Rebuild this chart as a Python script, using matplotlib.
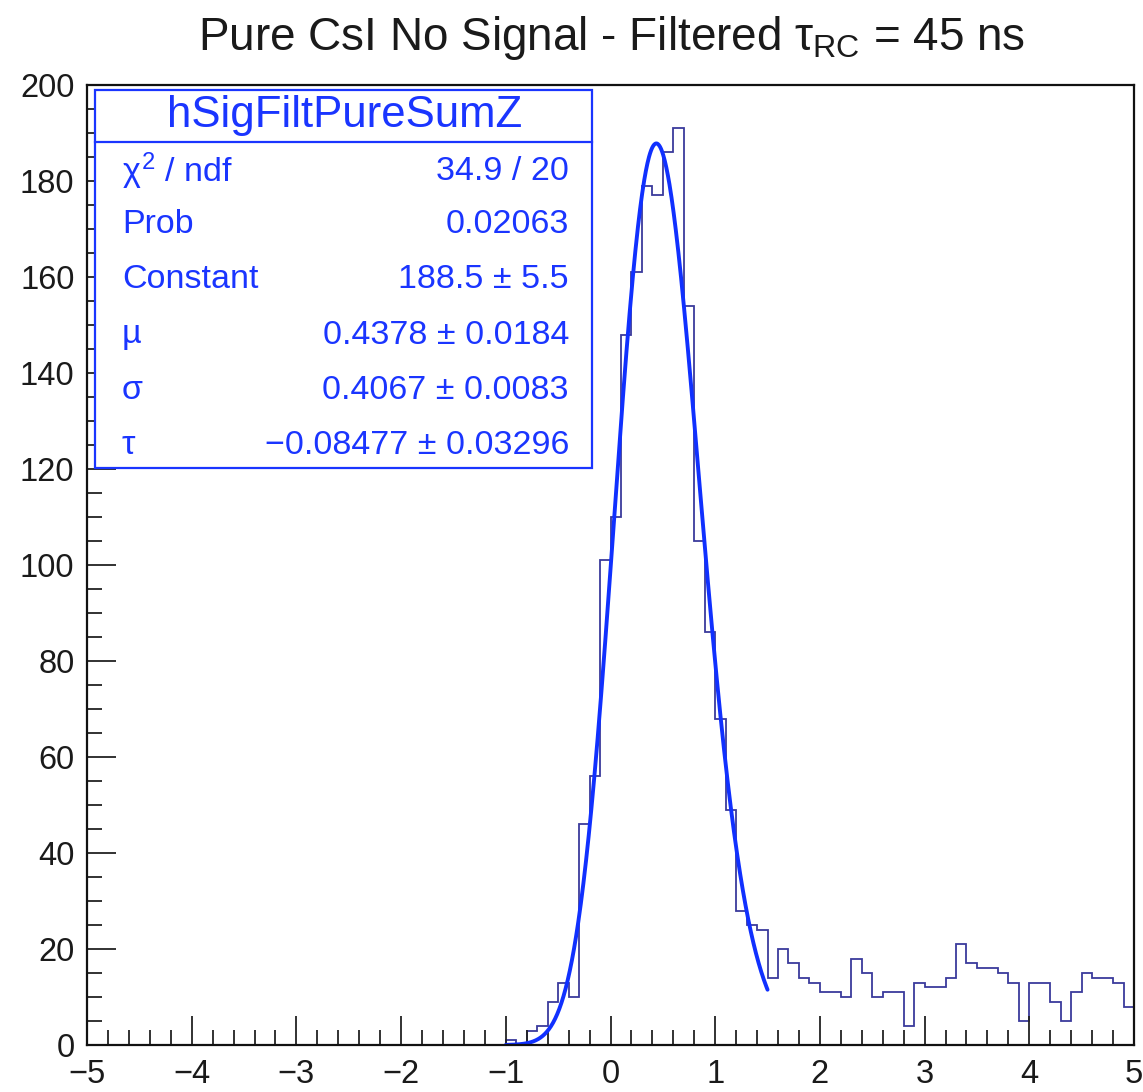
import numpy as np
import matplotlib
matplotlib.use("Agg")
import matplotlib.pyplot as plt
from matplotlib.ticker import MultipleLocator

plt.rcParams['font.family'] = ['Liberation Sans', 'DejaVu Sans']
plt.rcParams['mathtext.fontset'] = 'custom'
plt.rcParams['mathtext.rm'] = 'Liberation Sans'
plt.rcParams['mathtext.it'] = 'Liberation Sans'
plt.rcParams['mathtext.bf'] = 'Liberation Sans:bold'

# ---------------- data ----------------
x_min, x_max, n_bins = -5.0, 5.0, 100
counts_left_zero = [0] * 40          # bins from -5.0 to -1.0
counts_peak = [1, 0, 3, 4, 9, 13, 10, 46, 56, 101,        # -1.0 .. 0.0
               110, 148, 161, 179, 177, 186, 191, 154, 105, 86,  # 0.0 .. 1.0
               68, 49, 28, 25, 24, 14, 20, 17, 14, 13]    # 1.0 .. 2.0
counts_tail = [11, 11, 10, 18, 15, 10, 11, 11, 4, 13,    # 2.0 .. 3.0
               12, 12, 14, 21, 17, 16, 16, 15, 13, 5,    # 3.0 .. 4.0
               13, 13, 9, 5, 11, 15, 14, 14, 13, 8]      # 4.0 .. 5.0
counts = np.array(counts_left_zero + counts_peak + counts_tail, dtype=float)

# fit result shown in the stats box
fit_constant = 188.5
fit_mu = 0.4378
fit_sigma = 0.4067
fit_tau = -0.08477
fit_range = (-1.0, 1.5)

title = r'Pure CsI No Signal - Filtered $\tau_{\mathrm{RC}}$ = 45 ns'
stats_name = 'hSigFiltPureSumZ'
stats_labels = [r'$\chi^{2}$ / ndf', 'Prob', 'Constant', 'µ', 'σ', 'τ']
stats_values = ['34.9 / 20', '0.02063', '188.5 ± 5.5', '0.4378 ± 0.0184',
                '0.4067 ± 0.0083', '−0.08477 ± 0.03296']

# ---------------- figure ----------------
W, H = 1143, 1092
fig = plt.figure(figsize=(W / 100, H / 100), dpi=100)
ax = fig.add_axes([87 / W, 1 - 1045 / H, (1134 - 87) / W, (1045 - 85) / H])

edges = np.linspace(x_min, x_max, n_bins + 1)
ax.stairs(counts, edges, color='#3a3a9c', lw=1.3)

# Novosibirsk fit function with the parameters from the stats box
xf = np.linspace(fit_range[0], fit_range[1], 500)
qa = fit_tau * np.sqrt(np.log(4.0))
qb = np.sinh(qa) / qa
qx = (xf - fit_mu) / fit_sigma * qb
qy = 1.0 - fit_tau * qx
qc = 0.5 * ((np.log(qy) / fit_tau) ** 2 + fit_tau ** 2)
yf = fit_constant * np.exp(-qc)
ax.plot(xf, yf, color='#1030ff', lw=2.8, solid_capstyle='round')

ax.set_xlim(x_min, x_max)
ax.set_ylim(0, 200)
ax.xaxis.set_major_locator(MultipleLocator(1))
ax.xaxis.set_minor_locator(MultipleLocator(0.2))
ax.yaxis.set_major_locator(MultipleLocator(20))
ax.yaxis.set_minor_locator(MultipleLocator(5))
ax.tick_params(which='both', direction='in', top=False, right=False, colors='#222222')
ax.tick_params(which='major', length=21, width=1.3, labelsize=23.5, labelcolor='#1a1a1a')
ax.tick_params(which='minor', length=10.5, width=1.3)
ax.tick_params(axis='y', which='major', pad=9)
ax.tick_params(axis='x', which='major', pad=10)
for s in ax.spines.values():
    s.set_linewidth(1.6)
    s.set_color('#111111')
ax.xaxis.set_major_formatter(matplotlib.ticker.FuncFormatter(
    lambda v, p: ('−%d' % abs(v)) if v < 0 else '%d' % v))

fig.text(612 / W, 1 - 38 / H, title, ha='center', va='center', fontsize=33, color='#1a1a1a')

# stats box
blue = '#1a35ff'
bx0, bx1 = 95 / W, 592 / W
by0, by1 = 1 - 468 / H, 1 - 90 / H
fig.add_artist(plt.Rectangle((bx0, by0), bx1 - bx0, by1 - by0, transform=fig.transFigure,
                             fill=True, facecolor='white', edgecolor=blue, lw=1.6))
fig.add_artist(plt.Line2D([bx0, bx1], [1 - 142 / H] * 2, transform=fig.transFigure,
                          color=blue, lw=1.6))
fig.text(345 / W, 1 - 116 / H, stats_name, ha='center', va='center', fontsize=31.5, color=blue)
row_y = [171, 225, 280, 335, 390, 445]
for lab, val, yy in zip(stats_labels, stats_values, row_y):
    fig.text(122 / W, 1 - yy / H, lab, ha='left', va='center', fontsize=24.5, color=blue)
    fig.text(569 / W, 1 - yy / H, val, ha='right', va='center', fontsize=24.5, color=blue)

fig.savefig('out.png', dpi=100)
